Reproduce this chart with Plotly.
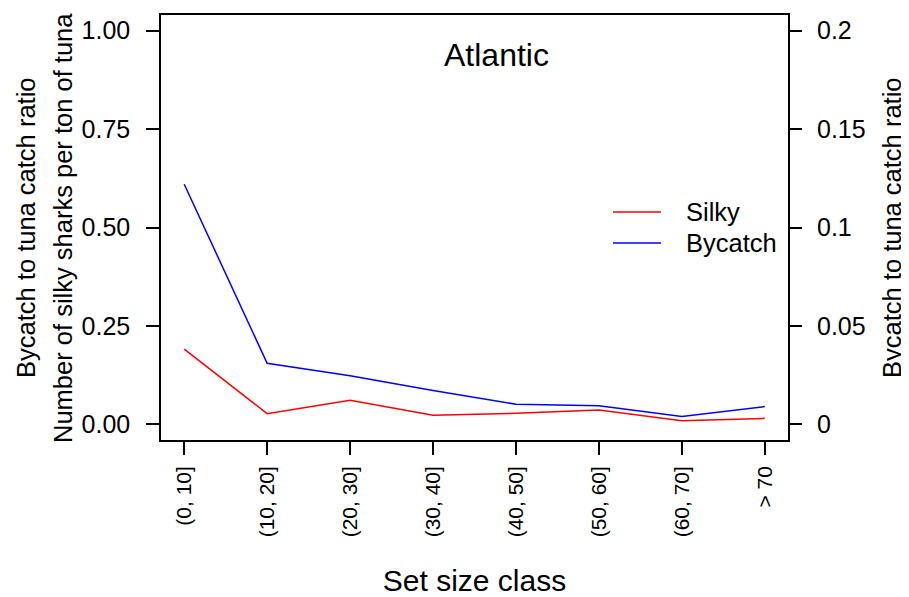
import plotly.graph_objects as go

categories = ["(0, 10]", "(10, 20]", "(20, 30]", "(30, 40]", "(40, 50]", "(50, 60]", "(60, 70]", "> 70"]
silky = [0.191, 0.027, 0.061, 0.023, 0.028, 0.036, 0.009, 0.015]
bycatch = [0.122, 0.031, 0.0246, 0.0172, 0.0102, 0.0094, 0.004, 0.009]

left_ticks = [0, 0.25, 0.5, 0.75, 1.0]
left_labels = ["0.00", "0.25", "0.50", "0.75", "1.00"]
right_ticks = [0, 0.05, 0.1, 0.15, 0.2]
right_labels = ["0", "0.05", "0.1", "0.15", "0.2"]

series_names = ["Silky", "Bycatch"]
series_colors = ["#FF0000", "#0000FF"]

FONT = "Liberation Sans, Arial, Helvetica, sans-serif"

# The page body has an 8px default margin; size the figure to fill the rest.
OFF = 8
W, H = 909 - OFF, 597 - OFF
L, T = 161 - OFF, 15 - OFF
PW, PH = 627, 425
R, B = W - L - PW, H - T - PH


def px(x):
    return (x - OFF - L) / PW


def py(y):
    return (T + PH - (y - OFF)) / PH


fig = go.Figure()
fig.add_trace(go.Scatter(x=categories, y=silky, mode="lines", name=series_names[0],
                         line=dict(color=series_colors[0], width=1.5), yaxis="y"))
fig.add_trace(go.Scatter(x=categories, y=bycatch, mode="lines", name=series_names[1],
                         line=dict(color=series_colors[1], width=1.5), yaxis="y2"))

annotations = [
    dict(text="Atlantic", xref="paper", yref="paper", x=px(496), y=py(55),
         xanchor="center", yanchor="middle", showarrow=False, font=dict(size=32)),
    dict(text="Bycatch to tuna catch ratio", xref="paper", yref="paper",
         x=px(26), y=py(228), textangle=-90, xanchor="center", yanchor="middle",
         showarrow=False, font=dict(size=25.5)),
    dict(text="Number of silky sharks per ton of tuna", xref="paper", yref="paper",
         x=px(63), y=py(228), textangle=-90, xanchor="center", yanchor="middle",
         showarrow=False, font=dict(size=25.5)),
    dict(text="Bycatch to tuna catch ratio", xref="paper", yref="paper",
         x=px(892), y=py(228), textangle=-90, xanchor="center", yanchor="middle",
         showarrow=False, font=dict(size=25.5)),
]
shapes = []
legend_y = [212, 243]
for name, color, ly in zip(series_names, series_colors, legend_y):
    shapes.append(dict(type="line", xref="paper", yref="paper",
                       x0=px(613), x1=px(661), y0=py(ly), y1=py(ly),
                       line=dict(color=color, width=1.5)))
    annotations.append(dict(text=name, xref="paper", yref="paper", x=px(684), y=py(ly),
                            xanchor="left", yanchor="middle", showarrow=False,
                            font=dict(size=25.5)))

fig.update_layout(
    width=W, height=H,
    margin=dict(l=L, r=R, t=T, b=B, autoexpand=False),
    paper_bgcolor="white", plot_bgcolor="white",
    font=dict(family=FONT, size=25, color="black"),
    showlegend=False,
    xaxis=dict(
        type="category", range=[-0.28, 7.28], automargin=False,
        showline=True, linecolor="black", linewidth=1.5, mirror=True,
        ticks="outside", ticklen=13, tickwidth=1.5, tickcolor="black",
        tickangle=-90, showgrid=False, zeroline=False,
        tickfont=dict(size=21), ticklabelstandoff=3,
        title=dict(text="Set size class", font=dict(size=30), standoff=34),
    ),
    yaxis=dict(
        range=[-0.04, 1.04], tickvals=left_ticks, ticktext=left_labels, automargin=False,
        showline=True, linecolor="black", linewidth=1.5, mirror=True,
        ticks="outside", ticklen=13, tickwidth=1.5, tickcolor="black",
        showgrid=False, zeroline=False, ticklabelstandoff=11,
    ),
    yaxis2=dict(
        range=[-0.008, 0.208], tickvals=right_ticks, ticktext=right_labels,
        overlaying="y", side="right", automargin=False,
        showline=False,
        ticks="outside", ticklen=13, tickwidth=1.5, tickcolor="black",
        showgrid=False, zeroline=False, ticklabelstandoff=10,
    ),
    annotations=annotations,
    shapes=shapes,
)

fig.write_html("out.html")
